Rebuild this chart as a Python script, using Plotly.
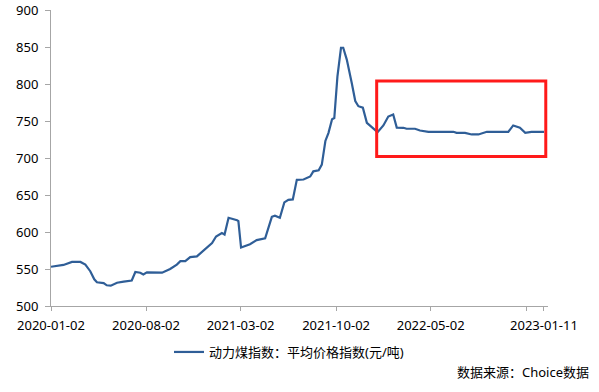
import plotly.graph_objects as go

# ---- data ----
dates = [
    "2020-01-02", "2020-01-30", "2020-02-18", "2020-03-08", "2020-03-19", "2020-03-30",
    "2020-04-08", "2020-04-14", "2020-04-29", "2020-05-06", "2020-05-15", "2020-05-29",
    "2020-06-13", "2020-07-01", "2020-07-09", "2020-07-20", "2020-07-27", "2020-08-04",
    "2020-09-07", "2020-09-25", "2020-10-10", "2020-10-18", "2020-10-29", "2020-11-09",
    "2020-11-24", "2020-12-09", "2020-12-28", "2021-01-06", "2021-01-19", "2021-01-25",
    "2021-02-03", "2021-02-22", "2021-02-25", "2021-03-03", "2021-03-14", "2021-03-23",
    "2021-04-07", "2021-04-26", "2021-05-11", "2021-05-18", "2021-05-29", "2021-06-08",
    "2021-06-17", "2021-06-27", "2021-07-06", "2021-07-21", "2021-08-05", "2021-08-12",
    "2021-08-24", "2021-08-31", "2021-09-08", "2021-09-15", "2021-09-23", "2021-09-28",
    "2021-10-05", "2021-10-13", "2021-10-18", "2021-10-26", "2021-11-06", "2021-11-14",
    "2021-11-21", "2021-12-01", "2021-12-10", "2021-12-21", "2022-01-03", "2022-01-16",
    "2022-01-27", "2022-02-07", "2022-02-15", "2022-03-02", "2022-03-09", "2022-03-28",
    "2022-04-08", "2022-04-27", "2022-06-22", "2022-06-29", "2022-07-18", "2022-08-02",
    "2022-08-17", "2022-09-05", "2022-10-23", "2022-11-03", "2022-11-18", "2022-11-30",
    "2022-12-14", "2023-01-11",
]
index_values = [
    553, 555.5, 559.5, 559.5, 556, 547,
    536, 532, 531, 528, 527.5, 531.4,
    533, 534.5, 546, 545, 542.6, 545.5,
    545, 550, 556, 560.6, 560.6, 566,
    567, 575, 585, 594, 598.5, 596.6,
    619.2, 616, 614.6, 579, 582, 583.5,
    589, 591.5, 620.5, 622, 619.2, 640,
    643.5, 644, 670.5, 670.9, 675, 682,
    683.5, 691, 723, 734, 752.5, 754,
    810, 849, 849, 833, 801.6, 777,
    770, 768, 747.6, 742.2, 735, 744,
    756, 758.8, 741, 740.8, 739.5, 739.5,
    737.2, 735.4, 735.4, 734, 734, 731.8,
    731.8, 735.4, 735.4, 744, 741, 734,
    735.4, 735.4,
]
series_name = "动力煤指数：平均价格指数(元/吨)"
source_text = "数据来源：Choice数据"

x_tick_dates = ["2020-01-02", "2020-08-02", "2021-03-02", "2021-10-02",
                "2022-05-02", "2022-12-02", "2023-01-11"]
x_tick_labels = ["2020-01-02", "2020-08-02", "2021-03-02", "2021-10-02",
                 "2022-05-02", "", "2023-01-11"]
y_ticks = [500, 550, 600, 650, 700, 750, 800, 850, 900]

highlight_x = ["2022-01-01", "2023-01-15"]
highlight_y = [702, 804]

LINE_COLOR = "#2F5E97"
AXIS_COLOR = "#A6A6A6"
FONT = "Noto Sans, Noto Sans CJK SC, sans-serif"

fig = go.Figure()
fig.add_trace(go.Scatter(
    x=dates, y=index_values, mode="lines", name=series_name,
    line=dict(color=LINE_COLOR, width=2.2), showlegend=True,
))

fig.add_shape(
    type="rect", xref="x", yref="y",
    x0=highlight_x[0], x1=highlight_x[1], y0=highlight_y[0], y1=highlight_y[1],
    line=dict(color="#FF1A1A", width=3), fillcolor="rgba(0,0,0,0)",
)

fig.add_annotation(
    text=source_text, xref="paper", yref="paper", x=1.0 + 43 / 497, y=-(372 - 306) / 296,
    xanchor="right", yanchor="middle", showarrow=False,
    font=dict(family=FONT, size=13, color="#000000"),
)

fig.update_layout(
    width=599, height=392,
    margin=dict(l=51, r=51, t=10, b=86, pad=0, autoexpand=False),
    paper_bgcolor="white", plot_bgcolor="white",
    font=dict(family=FONT, size=13, color="#000000"),
    showlegend=True,
    legend=dict(
        orientation="h", x=(289 - 51) / 497, xanchor="center", y=-(352 - 306) / 296, yanchor="middle",
        font=dict(family=FONT, size=13, color="#000000"),
        bgcolor="rgba(0,0,0,0)",
    ),
    xaxis=dict(
        type="date", range=["2020-01-02", "2023-01-20"], automargin=False,
        tickmode="array", tickvals=x_tick_dates, ticktext=x_tick_labels,
        showgrid=False, zeroline=False,
        showline=True, linecolor=AXIS_COLOR, linewidth=1,
        ticks="outside", ticklen=4, tickcolor=AXIS_COLOR, tickwidth=1,
        tickfont=dict(family=FONT, size=13, color="#000000"),
        ticklabelstandoff=3,
    ),
    yaxis=dict(
        range=[500, 900], tickmode="array", tickvals=y_ticks, automargin=False,
        showgrid=False, zeroline=False,
        showline=True, linecolor=AXIS_COLOR, linewidth=1,
        ticks="outside", ticklen=5, tickcolor=AXIS_COLOR, tickwidth=1,
        tickfont=dict(family=FONT, size=13, color="#000000"),
        ticklabelstandoff=4,
    ),
)

fig.write_html("out.html")
